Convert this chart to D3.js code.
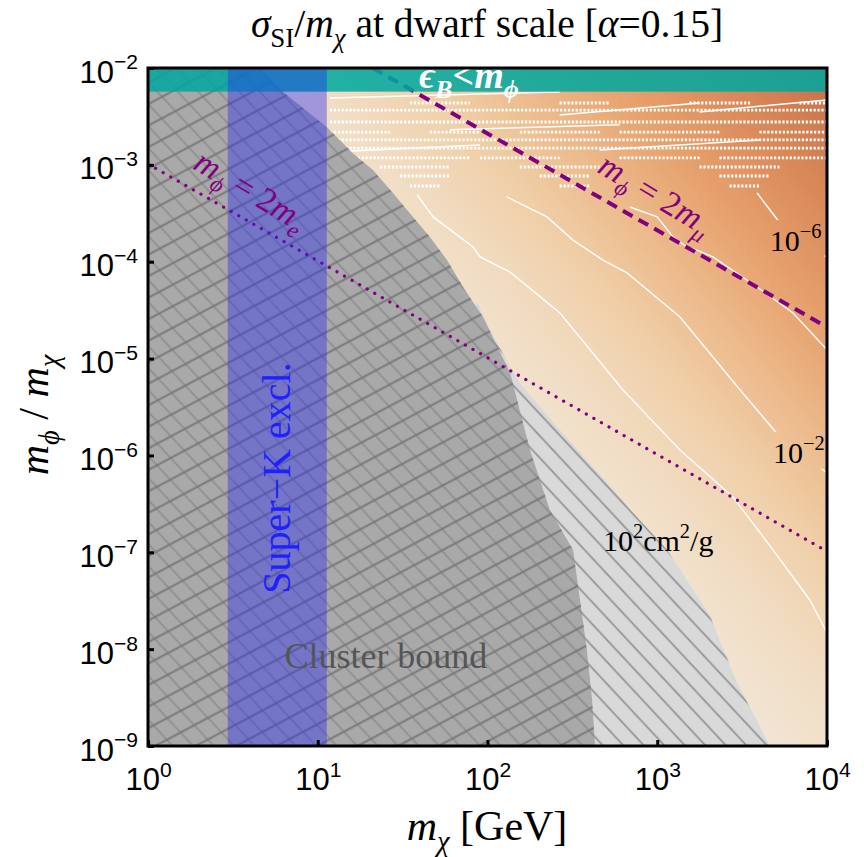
<!DOCTYPE html>
<html>
<head>
<meta charset="utf-8">
<script src="https://cdn.jsdelivr.net/npm/d3@7"></script>
<style>
  body { margin: 0; background: #fff; }
  text { font-family: "Liberation Serif", "Times New Roman", serif; }
  .tick text { font-family: "Liberation Sans", Arial, sans-serif; }
</style>
</head>
<body>
<div id="chart"></div>
<script>
// Axis ticks (decades)
const xTicks = [1, 10, 100, 1000, 10000];
const xTickPow = ["0", "1", "2", "3", "4"];
const yTicks = [1e-2, 1e-3, 1e-4, 1e-5, 1e-6, 1e-7, 1e-8, 1e-9];
const yTickPow = ["\u22122", "\u22123", "\u22124", "\u22125", "\u22126", "\u22127", "\u22128", "\u22129"];

// eps_B < m_phi region: ratio above this value
const tealFloor = 5.7e-3;
// Super-K exclusion band in m_chi [GeV]
const superK = [2.95, 11.3];

// Cluster bound edge [m_chi, m_phi/m_chi]
const clusterEdge = [
  [4.57, 1e-2], [6.24, 5.65e-3], [11.3, 2.46e-3], [16.1, 1.32e-3], [21.1, 8.85e-4],
  [27.7, 5.12e-4], [33.6, 3.42e-4], [45.8, 1.8e-4], [57.7, 1.04e-4], [73.6, 5.1e-5],
  [94.2, 2.69e-5], [136, 7.1e-6], [178, 1.14e-6], [233, 2.74e-7], [319, 1.06e-7],
  [351, 3.2e-8], [385, 9.8e-9], [413, 3.0e-9], [430, 1e-9]
];
// Dwarf-scale (10^2 cm^2/g) edge
const dwarfEdge = [
  [88, 3.6e-5], [108, 1.7e-5], [155, 5.6e-6], [267, 1.83e-6], [460, 6.3e-7],
  [760, 2.31e-7], [1143, 1.06e-7], [1786, 3.2e-8], [2046, 2.2e-8], [2951, 4.5e-9], [4613, 1e-9]
];

// White contours of sigma/m
const contour0 = [
  [38.5, 4.89e-4], [47.8, 2.9e-4], [82.2, 1.42e-4], [90.4, 1.12e-4], [136, 7.8e-5],
  [267, 2.96e-5], [628, 4.74e-6], [1361, 1.14e-6], [2793, 3.72e-7], [4808, 1.06e-7],
  [7943, 3.2e-8], [10000, 1.47e-8]
];
const contourM2 = [
  [130, 4.66e-4], [224, 2.9e-4], [319, 1.67e-4], [479, 1.04e-4], [664, 7.66e-5],
  [1361, 2.69e-5], [3076, 4.74e-6], [5284, 1.55e-6], [10000, 6.6e-7]
];
const contourM4 = [
  [690, 3.67e-4], [998, 2.9e-4], [1239, 1.8e-4], [1496, 1.42e-4], [1714, 1.32e-4],
  [2128, 1.12e-4], [3873, 5.48e-5], [6310, 2.96e-5], [10000, 1.23e-5]
];
const contourM6 = [
  [3873, 5.12e-4], [4613, 3.42e-4], [5284, 2.51e-4], [6310, 1.8e-4], [7943, 1.32e-4], [10000, 1.12e-4]
];
const contours = [contour0, contourM2, contourM4, contourM6];

// Noisy numerical region near the top: dotted rows [ratio, [[mStart, mEnd], ...]]
const noiseRows = [
  [4.35e-3, [[34.9, 78.7], [266, 524], [1549, 3516], [6877, 10000]]],
  [3.68e-3, [[11.8, 10000]]],
  [2.77e-3, [[11.8, 10000]]],
  [2.18e-3, [[11.8, 26.6], [45.7, 90.2], [155, 458], [600, 2326], [4000, 10000]]],
  [1.81e-3, [[11.8, 10000]]],
  [1.49e-3, [[11.8, 10000]]],
  [1.18e-3, [[15.5, 78.7], [90.2, 266], [600, 1774], [2326, 10000]]],
  [9.5e-4, [[23.3, 60.1], [155, 458], [1774, 5244]]],
  [7.67e-4, [[30.5, 60.1], [203, 400], [2326, 4613]]],
  [6.05e-4, [[34.9, 52.5], [266, 400], [2665, 4000]]]
];
const noiseLines = [
  [[11.8, 4.9e-3], [266, 5.65e-3]],
  [[266, 3.27e-3], [1774, 4.35e-3]],
  [[1774, 3.52e-3], [10000, 4.68e-3]],
  [[11.8, 1.36e-3], [90.2, 1.6e-3]],
  [[458, 1.42e-3], [4000, 1.81e-3]],
  [[60.1, 2.3e-3], [600, 2.6e-3]]
];

// m_phi = 2 m_e and m_phi = 2 m_mu lines
const electronLine = [[1, 1.022e-3], [10000, 1.022e-7]];
const muonLine = [[21.1, 1e-2], [10000, 2.11e-5]];

const width = 864, height = 857;
const margin = { left: 148, right: 37, top: 68, bottom: 111 };

const x = d3.scaleLog().domain([1, 1e4]).range([margin.left, width - margin.right]);
const y = d3.scaleLog().domain([1e-9, 1e-2]).range([height - margin.bottom, margin.top]);

const svg = d3.select("#chart").append("svg")
    .attr("width", width)
    .attr("height", height);

const defs = svg.append("defs");

defs.append("clipPath").attr("id", "plotClip")
  .append("rect")
    .attr("x", x(1)).attr("y", y(1e-2))
    .attr("width", x(1e4) - x(1)).attr("height", y(1e-9) - y(1e-2));

// background colour field (light lower-left to orange upper-right)
const grad = defs.append("linearGradient").attr("id", "field")
    .attr("gradientUnits", "userSpaceOnUse")
    .attr("x1", 148).attr("y1", 746).attr("x2", 870).attr("y2", 144);
[[0, "#f4efea"], [0.5, "#f2e6d6"], [0.6, "#f1dcc2"], [0.68, "#f0cfa8"], [0.76, "#ecb98a"],
 [0.84, "#e6a06c"], [0.92, "#da8a5a"], [1, "#c8744c"]].forEach(s => {
  grad.append("stop").attr("offset", s[0]).attr("stop-color", s[1]);
});

function hatch(id, angle, gap, color, w) {
  const p = defs.append("pattern").attr("id", id)
      .attr("patternUnits", "userSpaceOnUse")
      .attr("width", gap).attr("height", gap)
      .attr("patternTransform", `rotate(${angle})`);
  p.append("line")
      .attr("x1", 0).attr("x2", gap).attr("y1", gap / 2).attr("y2", gap / 2)
      .attr("stroke", color).attr("stroke-width", w);
}
hatch("hatchDown", 47, 15, "#8c8c8c", 1.6);
hatch("hatchUp", -28, 19, "#777", 1.9);

const line = d3.line().x(d => x(d[0])).y(d => y(d[1]));

const plot = svg.append("g").attr("clip-path", "url(#plotClip)");

plot.append("rect")
    .attr("x", x(1)).attr("y", y(1e-2))
    .attr("width", x(1e4) - x(1)).attr("height", y(1e-9) - y(1e-2))
    .attr("fill", "url(#field)");

// noisy rows
const noise = plot.append("g");
noiseRows.forEach(r => {
  r[1].forEach(seg => {
    noise.append("line")
        .attr("x1", x(seg[0])).attr("x2", x(seg[1]))
        .attr("y1", y(r[0])).attr("y2", y(r[0]))
        .attr("stroke", "#fff").attr("stroke-width", 2.8)
        .attr("stroke-dasharray", "2.2,1.7");
  });
});
noise.selectAll("path.nl")
  .data(noiseLines)
  .enter().append("path")
    .attr("d", line)
    .attr("fill", "none")
    .attr("stroke", "#fff")
    .attr("stroke-width", 1.5);

// contours (masked under their labels)
const mask = defs.append("mask").attr("id", "labelMask").attr("maskUnits", "userSpaceOnUse")
    .attr("x", 0).attr("y", 0).attr("width", width).attr("height", height);
mask.append("rect").attr("width", width).attr("height", height).attr("fill", "#fff");

plot.append("g").attr("mask", "url(#labelMask)")
  .selectAll("path")
  .data(contours)
  .enter().append("path")
    .attr("d", line)
    .attr("fill", "none")
    .attr("stroke", "#fff")
    .attr("stroke-width", 1.4);

// dwarf-scale excluded region
const dwarfArea = dwarfEdge.concat([[1, 1e-9], [1, 3.6e-5]]);
plot.append("path").attr("d", line(dwarfArea) + "Z").attr("fill", "#d9d9d9");
plot.append("path").attr("d", line(dwarfArea) + "Z").attr("fill", "url(#hatchDown)");

// cluster bound region
const clusterArea = clusterEdge.concat([[1, 1e-9], [1, 1e-2]]);
plot.append("path").attr("d", line(clusterArea) + "Z").attr("fill", "#a9a9a9");
plot.append("path").attr("d", line(clusterArea) + "Z").attr("fill", "url(#hatchDown)");
plot.append("path").attr("d", line(clusterArea) + "Z").attr("fill", "url(#hatchUp)");

// m_phi = 2 m_e (dotted) and 2 m_mu (dashed)
plot.append("path").attr("d", line(electronLine))
    .attr("stroke", "#800080").attr("stroke-width", 3.2)
    .attr("stroke-linecap", "round").attr("stroke-dasharray", "0.1,8.6")
    .attr("fill", "none");
plot.append("path").attr("d", line(muonLine))
    .attr("stroke", "#800080").attr("stroke-width", 4)
    .attr("stroke-dasharray", "11,7")
    .attr("fill", "none");

// eps_B < m_phi band
plot.append("rect")
    .attr("x", x(1)).attr("y", y(1e-2))
    .attr("width", x(1e4) - x(1)).attr("height", y(tealFloor) - y(1e-2))
    .attr("fill", "#00a8a0").attr("opacity", 0.86);

// Super-K band
plot.append("rect")
    .attr("x", x(superK[0])).attr("y", y(1e-2))
    .attr("width", x(superK[1]) - x(superK[0])).attr("height", y(1e-9) - y(1e-2))
    .attr("fill", "#2828f5").attr("opacity", 0.4);

// rich text helper: parts {t, it, sub, sup}
function rich(sel, parts, size) {
  let shift = 0;
  parts.forEach(p => {
    const target = p.sub ? size * 0.25 : p.sup ? -size * 0.42 : 0;
    sel.append("tspan")
        .attr("dy", target - shift)
        .attr("font-size", (p.sub || p.sup) ? size * 0.68 : size)
        .attr("font-style", p.it ? "italic" : null)
        .text(p.t);
    shift = target;
  });
  return sel;
}

// labels inside the plot
const labels = svg.append("g");

rich(labels.append("text").attr("x", 419).attr("y", 88)
    .attr("fill", "#fff").attr("font-weight", "bold").attr("font-size", 38),
  [{ t: "\u03f5", it: 1 }, { t: "B", it: 1, sub: 1 }, { t: "<" }, { t: "m", it: 1 }, { t: "\u03d5", it: 1, sub: 1 }], 38);

rich(labels.append("text")
    .attr("transform", `translate(${x(3.73)},${y(4.34e-4)}) rotate(31)`)
    .attr("text-anchor", "middle").attr("fill", "#800080").attr("font-size", 34),
  [{ t: "m", it: 1 }, { t: "\u03d5", it: 1, sub: 1 }, { t: " = 2" }, { t: "m", it: 1 }, { t: "e", it: 1, sub: 1 }], 34);

rich(labels.append("text")
    .attr("transform", `translate(${x(906)},${y(3.94e-4)}) rotate(31)`)
    .attr("text-anchor", "middle").attr("fill", "#800080").attr("font-size", 34),
  [{ t: "m", it: 1 }, { t: "\u03d5", it: 1, sub: 1 }, { t: " = 2" }, { t: "m", it: 1 }, { t: "\u03bc", it: 1, sub: 1 }], 34);

labels.append("text")
    .attr("transform", `translate(${x(5.7) + 14},${y(5.85e-7)}) rotate(-90)`)
    .attr("text-anchor", "middle").attr("fill", "#2020ff").attr("font-size", 40)
    .text("Super\u2212K excl.");

labels.append("text")
    .attr("x", x(25.2)).attr("y", y(6.4e-9))
    .attr("text-anchor", "middle").attr("fill", "#555").attr("font-size", 36)
    .text("Cluster bound");

const contourLabels = [
  { at: [4600, 1.3e-4], parts: [{ t: "10" }, { t: "\u22126", sup: 1 }] },
  { at: [4800, 8.4e-7], parts: [{ t: "10" }, { t: "\u22122", sup: 1 }] },
  { at: [479, 1.03e-7], parts: [{ t: "10" }, { t: "2", sup: 1 }, { t: "cm" }, { t: "2", sup: 1 }, { t: "/g" }] }
];
contourLabels.forEach(c => {
  const t = rich(labels.append("text")
      .attr("x", x(c.at[0])).attr("y", y(c.at[1]))
      .attr("fill", "#000").attr("font-size", 30), c.parts, 30);
  const b = t.node().getBBox();
  mask.append("rect")
      .attr("x", b.x - 3).attr("y", b.y).attr("width", b.width + 6).attr("height", b.height)
      .attr("fill", "#000");
});

// frame
svg.append("rect")
    .attr("x", x(1)).attr("y", y(1e-2))
    .attr("width", x(1e4) - x(1)).attr("height", y(1e-9) - y(1e-2))
    .attr("fill", "none").attr("stroke", "#000").attr("stroke-width", 3);

// axes
const xAxis = svg.append("g")
    .attr("transform", `translate(0,${y(1e-9)})`)
    .call(d3.axisBottom(x).tickValues(xTicks).tickSizeInner(-6).tickSizeOuter(0).tickFormat(""));
xAxis.select(".domain").remove();
xAxis.selectAll(".tick line").attr("stroke", "#000").attr("stroke-width", 3);
xAxis.selectAll(".tick text").each(function(d, i) {
  const t = d3.select(this).attr("y", 44).attr("dy", null)
      .attr("fill", "#000").attr("font-size", 31);
  rich(t, [{ t: "10" }, { t: xTickPow[i], sup: 1 }], 31);
});

const yAxis = svg.append("g")
    .attr("transform", `translate(${x(1)},0)`)
    .call(d3.axisLeft(y).tickValues(yTicks).tickSizeInner(-6).tickSizeOuter(0).tickFormat(""));
yAxis.select(".domain").remove();
yAxis.selectAll(".tick line").attr("stroke", "#000").attr("stroke-width", 3);
yAxis.selectAll(".tick text").each(function(d, i) {
  const t = d3.select(this).attr("x", -10).attr("y", 14).attr("dy", null)
      .attr("fill", "#000").attr("font-size", 31).attr("text-anchor", "end");
  rich(t, [{ t: "10" }, { t: yTickPow[i], sup: 1 }], 31);
});

// titles
rich(svg.append("text").attr("x", 487).attr("y", 37)
    .attr("text-anchor", "middle").attr("font-size", 39.5),
  [{ t: "\u03c3", it: 1 }, { t: "SI", sub: 1 }, { t: "/" }, { t: "m", it: 1 }, { t: "\u03c7", it: 1, sub: 1 },
   { t: " at dwarf scale [" }, { t: "\u03b1", it: 1 }, { t: "=0.15]" }], 39.5);

rich(svg.append("text").attr("x", 487).attr("y", 840)
    .attr("text-anchor", "middle").attr("font-size", 42),
  [{ t: "m", it: 1 }, { t: "\u03c7", it: 1, sub: 1 }, { t: " [GeV]" }], 42);

rich(svg.append("text")
    .attr("transform", `translate(48,415) rotate(-90)`)
    .attr("text-anchor", "middle").attr("font-size", 42),
  [{ t: "m", it: 1 }, { t: "\u03d5", it: 1, sub: 1 }, { t: " / " }, { t: "m", it: 1 }, { t: "\u03c7", it: 1, sub: 1 }], 42);
</script>
</body>
</html>
